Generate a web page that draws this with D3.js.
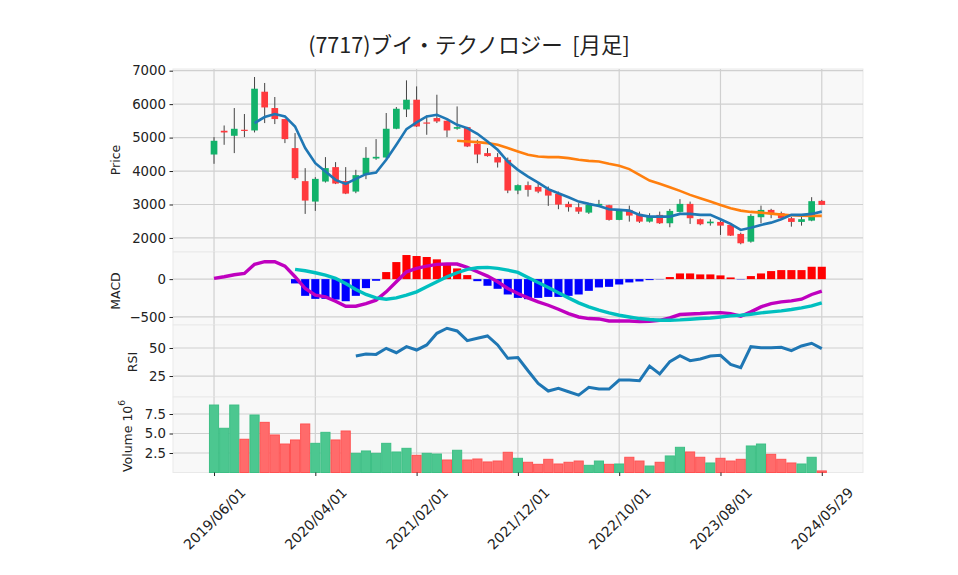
<!DOCTYPE html>
<html><head><meta charset="utf-8">
<script src="https://cdn.jsdelivr.net/npm/d3@7"></script>
<style>body{margin:0;background:#fff}</style>
</head><body><svg id="c" width="958" height="575"></svg>
<script>
// ---------------- data ----------------
const dates = ["2019/06/01","2019/07/01","2019/08/01","2019/09/01","2019/10/01","2019/11/01","2019/12/01",
"2020/01/01","2020/02/01","2020/03/01","2020/04/01","2020/05/01","2020/06/01","2020/07/01","2020/08/01","2020/09/01","2020/10/01","2020/11/01","2020/12/01",
"2021/01/01","2021/02/01","2021/03/01","2021/04/01","2021/05/01","2021/06/01","2021/07/01","2021/08/01","2021/09/01","2021/10/01","2021/11/01","2021/12/01",
"2022/01/01","2022/02/01","2022/03/01","2022/04/01","2022/05/01","2022/06/01","2022/07/01","2022/08/01","2022/09/01","2022/10/01","2022/11/01","2022/12/01",
"2023/01/01","2023/02/01","2023/03/01","2023/04/01","2023/05/01","2023/06/01","2023/07/01","2023/08/01","2023/09/01","2023/10/01","2023/11/01","2023/12/01",
"2024/01/01","2024/02/01","2024/03/01","2024/04/01","2024/05/01","2024/05/29"];
const tickIndex = [0,10,20,30,40,50,60];

const open  = [4494,5204,5054,5234,5213,6371,5883,5554,4686,3698,3087,3686,4117,3698,3386,3907,4374,4404,5264,5841,6132,5452,5584,5503,5264,5314,4814,4536,4416,4335,3416,3578,3527,3458,3317,3018,2919,2757,2967,2979,2539,2838,2719,2488,2689,2439,2778,3018,2560,2439,2479,2389,2120,1889,2620,2838,2740,2590,2479,2518,3108];
const high  = [5015,5362,5883,5704,6811,6632,6213,5560,5135,4087,3817,4416,4266,4117,4036,4716,4955,5734,5913,6710,6530,5662,6281,5510,5931,5320,4934,4686,4536,4404,3600,3686,3638,3536,3386,3087,3039,3030,3138,2990,2859,2967,2787,2738,2787,2868,3159,3087,2580,2560,2530,2400,2159,2710,2967,2870,2787,2630,2630,3219,3138];
const low   = [4216,4784,4536,5015,5153,5434,5404,4835,3737,2719,2808,3656,3610,3310,3338,3757,4335,4380,5250,5614,5320,5084,5434,5015,5234,4716,4236,4430,4105,3338,3308,3237,3338,2958,2859,2787,2719,2719,2950,2518,2530,2488,2450,2460,2419,2320,2760,2419,2380,2368,2090,2060,1811,1859,2439,2590,2570,2338,2368,2500,2988];
const close = [4904,5153,5263,5204,6461,5901,5554,4955,3787,3117,3766,4087,3626,3326,3877,4395,4425,5264,5862,6132,5332,5434,5482,5213,5314,4734,4494,4446,4256,3416,3578,3437,3386,3266,2997,2919,2787,2988,3018,2539,2817,2668,2488,2638,2439,2808,3018,2590,2410,2488,2368,2069,1841,2659,2838,2740,2590,2479,2560,3099,2988];
const volume_1e6 = [8.65,5.67,8.65,4.26,7.37,6.43,4.81,3.65,4.17,6.22,3.74,5.15,4.17,5.32,2.46,2.76,2.46,3.74,2.63,3.1,2.2,2.46,2.37,1.6,2.85,1.6,1.73,1.35,1.47,2.59,1.82,1.31,1.05,1.69,1.09,1.31,1.47,0.92,1.47,1.05,1.09,1.95,1.47,0.83,1.31,2.12,3.23,2.63,1.95,1.22,1.82,1.47,1.69,3.4,3.65,2.33,1.69,1.22,1.09,1.95,0.2];
const ma5  = [null,null,null,null,5434,5614,5704,5632,5332,4686,4236,3986,3737,3617,3766,3907,3955,4335,4784,5254,5452,5632,5683,5554,5383,5284,5114,4883,4635,4285,4036,3835,3656,3458,3338,3218,3087,3018,2958,2859,2838,2817,2689,2638,2638,2638,2719,2719,2689,2689,2560,2419,2240,2308,2389,2458,2560,2689,2689,2719,2787];
const ma25 = [null,null,null,null,null,null,null,null,null,null,null,null,null,null,null,null,null,null,null,null,null,null,null,null,
4904,4883,4864,4835,4784,4686,4584,4485,4434,4416,4416,4386,4335,4305,4285,4216,4156,4057,3886,3716,3617,3518,3407,3287,3188,3087,2988,2889,2817,2778,2757,2728,2698,2679,2668,2659,2659];
const macd = [9,31,57,75,195,230,230,172,31,-124,-212,-235,-292,-358,-358,-323,-278,-168,-35,97,141,172,195,199,199,155,97,40,-35,-124,-190,-248,-301,-345,-398,-455,-500,-521,-526,-553,-553,-553,-561,-557,-544,-513,-468,-460,-455,-446,-442,-455,-490,-433,-367,-323,-301,-287,-265,-203,-159];
const signal = [null,null,null,null,null,null,null,null,
128,110,84,53,9,-57,-137,-203,-248,-265,-248,-212,-168,-102,-35,31,84,128,150,155,141,119,89,22,-44,-110,-181,-248,-314,-367,-411,-446,-477,-500,-521,-534,-544,-544,-539,-530,-521,-513,-500,-486,-477,-464,-446,-433,-420,-402,-380,-354,-314];
const hist = [null,null,null,null,null,null,null,null,
-57,-221,-261,-261,-270,-292,-221,-119,-22,93,225,318,305,292,261,208,141,53,-27,-88,-128,-203,-248,-265,-248,-235,-235,-221,-203,-155,-110,-102,-71,-44,-31,-13,-3,27,75,75,62,62,49,22,-4,40,75,106,119,119,119,163,163];
const rsi = [null,null,null,null,null,null,null,null,null,null,null,null,null,null,
42.9,44.6,44.3,49.7,45.8,51.2,48.2,52.7,63.1,67.6,65.2,56.5,58.7,60.7,52.7,40.8,41.5,29.7,18.5,11.6,14,11,8,14.9,13.4,13.4,21.4,21.4,20.8,33.9,26.8,37.8,43.1,38.7,40.2,42.9,43.5,35.4,32.4,51.2,50.3,50.3,50.6,47.6,51.8,54.2,49.4];
const priceTicks = [2000,3000,4000,5000,6000,7000];
const macdTicks = [-500,0];
const rsiTicks = [25,50];
const volTicks = [2.5,5.0,7.5];
const title = "(7717)ブイ・テクノロジー  [月足]";

// ---------------- drawing ----------------
const svg = d3.select('#c');
const L = 173, R = 863;
const x = d3.scaleLinear().domain([-4.05, 64.07]).range([L, R]);
const step = x(1) - x(0);
const idx = d3.range(close.length);
const FONT = "DejaVu Sans, sans-serif";
const UP = "#12b26a", DN = "#ff3a3e";

const yP = d3.scaleLinear().domain([1580, 7050]).range([252, 69]);
const yM = d3.scaleLinear().domain([-606, 358]).range([325, 252]);
const yR = d3.scaleLinear().domain([6.3, 70.5]).range([397, 325]);
const yV = d3.scaleLinear().domain([0, 9.68]).range([472.5, 397]);

const panels = [
  {y: yP, ticks: priceTicks, fmt: d3.format('d')},
  {y: yM, ticks: macdTicks, fmt: d3.format('d')},
  {y: yR, ticks: rsiTicks, fmt: d3.format('d')},
  {y: yV, ticks: volTicks, fmt: d3.format('.1f')}
];

// backgrounds + grid
panels.forEach(p => {
  const [b, t] = p.y.range();
  svg.append('rect').attr('x', L).attr('y', t).attr('width', R - L).attr('height', b - t)
    .attr('fill', '#f8f8f8').attr('stroke', '#e9e9e9').attr('stroke-width', 1);
  svg.append('g').selectAll('line').data(p.ticks).join('line')
    .attr('x1', L).attr('x2', R).attr('y1', d => p.y(d)).attr('y2', d => p.y(d))
    .attr('stroke', '#d0d0d0').attr('stroke-width', 1.2);
  svg.append('g').selectAll('line').data(tickIndex).join('line')
    .attr('x1', d => x(d)).attr('x2', d => x(d)).attr('y1', t).attr('y2', b)
    .attr('stroke', '#d0d0d0').attr('stroke-width', 1.2);
});

// candles
const cg = svg.append('g');
cg.selectAll('line').data(idx).join('line')
  .attr('x1', i => x(i)).attr('x2', i => x(i))
  .attr('y1', i => yP(high[i])).attr('y2', i => yP(low[i]))
  .attr('stroke', '#444').attr('stroke-width', 1);
const bw = step * 0.66;
cg.selectAll('rect').data(idx).join('rect')
  .attr('x', i => x(i) - bw / 2).attr('width', bw)
  .attr('y', i => yP(Math.max(open[i], close[i])))
  .attr('height', i => Math.max(1.2, Math.abs(yP(open[i]) - yP(close[i]))))
  .attr('fill', i => close[i] >= open[i] ? UP : DN);

const line = (ys, arr) => d3.line().defined(i => arr[i] != null).x(i => x(i)).y(i => ys(arr[i]))(idx);
svg.append('path').attr('d', line(yP, ma25)).attr('fill', 'none').attr('stroke', '#ff7f0e').attr('stroke-width', 2.6);
svg.append('path').attr('d', line(yP, ma5)).attr('fill', 'none').attr('stroke', '#1f77b4').attr('stroke-width', 2.6);

// MACD histogram
const hw = step * 0.8;
svg.append('g').selectAll('rect').data(idx.filter(i => hist[i] != null)).join('rect')
  .attr('x', i => x(i) - hw / 2).attr('width', hw)
  .attr('y', i => yM(Math.max(0, hist[i])))
  .attr('height', i => Math.abs(yM(hist[i]) - yM(0)))
  .attr('fill', i => hist[i] >= 0 ? '#ff0000' : '#0000ff');
svg.append('path').attr('d', line(yM, macd)).attr('fill', 'none').attr('stroke', '#bf00bf').attr('stroke-width', 3.4);
svg.append('path').attr('d', line(yM, signal)).attr('fill', 'none').attr('stroke', '#00bfbf').attr('stroke-width', 3.4);

// RSI
svg.append('path').attr('d', line(yR, rsi)).attr('fill', 'none').attr('stroke', '#1f77b4').attr('stroke-width', 3);

// Volume
svg.append('g').selectAll('rect').data(idx).join('rect')
  .attr('x', i => x(i) - step / 2 + 0.5).attr('width', step - 1)
  .attr('y', i => yV(volume_1e6[i]))
  .attr('height', i => yV(0) - yV(volume_1e6[i]))
  .attr('fill', i => (i === 0 || close[i] >= close[i - 1]) ? '#4cc790' : '#ff6b6b')
  .attr('stroke', i => (i === 0 || close[i] >= close[i - 1]) ? '#3dbf85' : '#ff5252')
  .attr('stroke-width', 1);

// y axes
panels.forEach(p => {
  const g = svg.append('g').attr('transform', `translate(${L},0)`)
    .call(d3.axisLeft(p.y).tickValues(p.ticks).tickFormat(p.fmt).tickSize(3.5).tickPadding(3.5));
  g.select('.domain').remove();
  g.selectAll('line').attr('stroke', '#222');
  g.selectAll('text').attr('font-family', FONT).attr('font-size', 13.3).attr('fill', '#222');
});

// x axis
const xg = svg.append('g').attr('transform', `translate(0,${yV(0)})`)
  .call(d3.axisBottom(x).tickValues(tickIndex).tickFormat(i => dates[i]).tickSize(3.5));
xg.select('.domain').remove();
xg.selectAll('line').attr('stroke', '#222');
xg.selectAll('text').attr('font-family', FONT).attr('font-size', 14).attr('fill', '#222')
  .attr('text-anchor', 'middle').attr('dy', null).attr('y', 0)
  .attr('dominant-baseline', 'central').attr('transform', 'translate(0,46) rotate(-45)');

// axis labels
const ylab = [
  {t: 'Price', x: 115, y: 160},
  {t: 'MACD', x: 115, y: 291},
  {t: 'RSI', x: 132, y: 362}
];
ylab.forEach(d => {
  svg.append('text').attr('transform', `translate(${d.x},${d.y}) rotate(-90)`)
    .attr('text-anchor', 'middle').attr('dominant-baseline', 'central')
    .attr('font-family', FONT).attr('font-size', 12.5).attr('fill', '#222').text(d.t);
});
const vl = svg.append('text').attr('transform', 'translate(127,436) rotate(-90)')
  .attr('text-anchor', 'middle').attr('dominant-baseline', 'central')
  .attr('font-family', FONT).attr('font-size', 12.5).attr('fill', '#222');
vl.append('tspan').text('Volume  10');
vl.append('tspan').attr('dy', -5).attr('font-size', 9).text('6');

// title
svg.append('text').attr('x', 469).attr('y', 53).attr('text-anchor', 'middle')
  .attr('font-family', 'Noto Sans CJK JP, sans-serif').attr('font-size', 21.5).attr('fill', '#222')
  .style('white-space', 'pre').attr('xml:space', 'preserve')
  .text(title);
</script>
</body></html>
